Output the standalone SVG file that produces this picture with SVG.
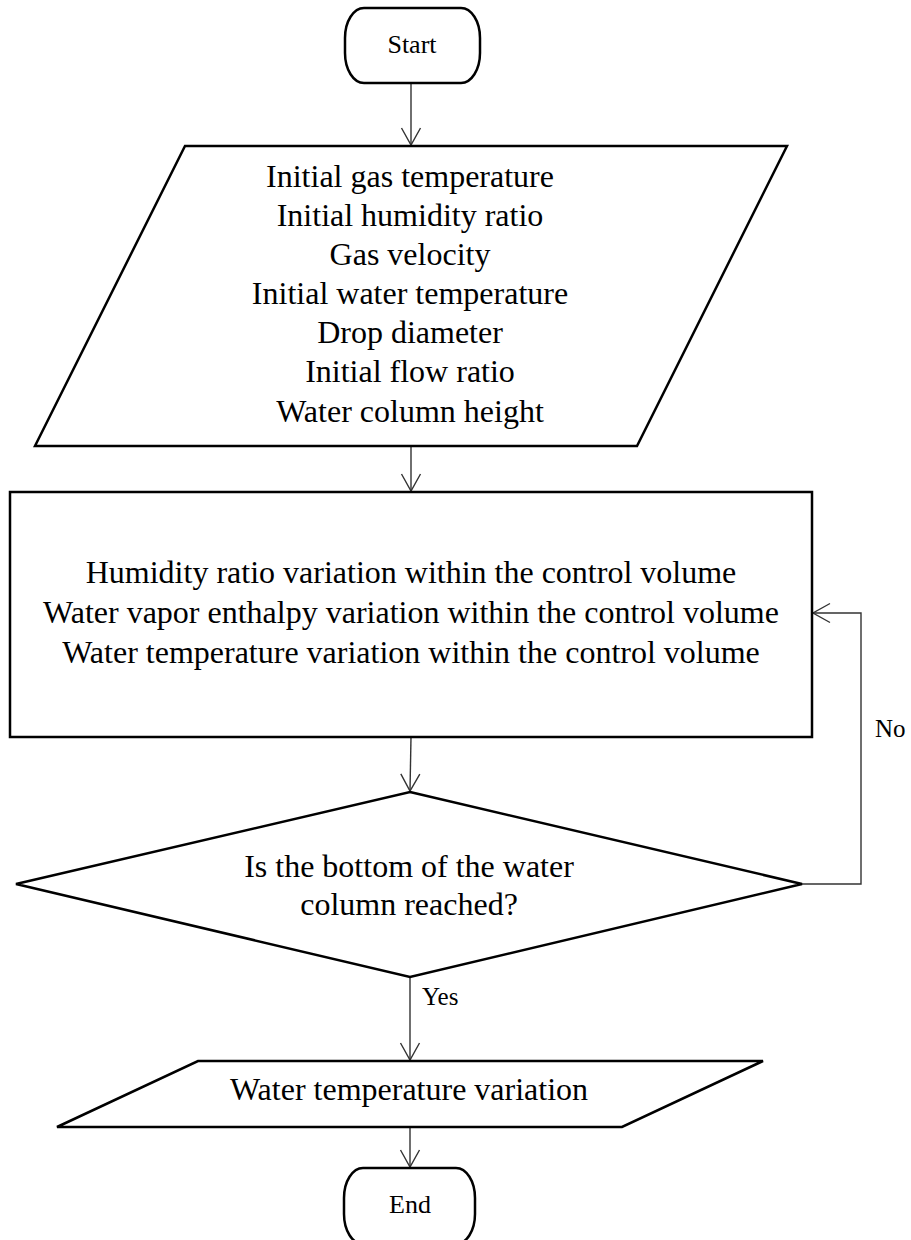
<svg xmlns="http://www.w3.org/2000/svg" width="911" height="1240" viewBox="0 0 911 1240">
<style>
.node{fill:#fff;stroke:#000;stroke-width:2.5;stroke-linejoin:miter}
.t{font-family:"Liberation Serif","Times New Roman",serif;font-size:32px;fill:#000;text-anchor:middle}
.s{font-family:"Liberation Serif","Times New Roman",serif;font-size:26px;fill:#000;text-anchor:middle}
.lbl{font-family:"Liberation Serif","Times New Roman",serif;font-size:25px;fill:#000}
.conn{fill:none;stroke:#333;stroke-width:1.4}
</style>
<defs>
<marker id="arr" markerUnits="userSpaceOnUse" viewBox="-19 -11 21 22" refX="0" refY="0" markerWidth="21" markerHeight="22" orient="auto">
<path d="M-17,-9.5 L0,0 L-17,9.5" fill="none" stroke="#333" stroke-width="1.4"/>
</marker>
</defs>
<rect width="911" height="1240" fill="#fff"/>
<g id="connectors">
<line class="conn" x1="411" y1="83" x2="411" y2="145" marker-end="url(#arr)"/>
<line class="conn" x1="411" y1="446" x2="411" y2="491" marker-end="url(#arr)"/>
<line class="conn" x1="411" y1="737" x2="410" y2="791" marker-end="url(#arr)"/>
<line class="conn" x1="410" y1="977" x2="410" y2="1060" marker-end="url(#arr)"/>
<line class="conn" x1="410" y1="1127" x2="410" y2="1167" marker-end="url(#arr)"/>
<polyline class="conn" points="802,884 861,884 861,613 813,613" marker-end="url(#arr)"/>
<text class="lbl" x="422" y="1005">Yes</text>
<text class="lbl" x="875" y="737">No</text>
</g>
<g id="start">
<rect class="node" x="345" y="8" width="135" height="75" rx="19" ry="30"/>
<text class="s" x="412" y="53">Start</text>
</g>
<g id="input">
<polygon class="node" points="185,146 787,146 637,446 35,446"/>
<text class="t" x="410" y="187">Initial gas temperature</text>
<text class="t" x="410" y="226">Initial humidity ratio</text>
<text class="t" x="410" y="265">Gas velocity</text>
<text class="t" x="410" y="304">Initial water temperature</text>
<text class="t" x="410" y="343">Drop diameter</text>
<text class="t" x="410" y="382">Initial flow ratio</text>
<text class="t" x="410" y="422">Water column height</text>
</g>
<g id="process">
<rect class="node" x="10" y="492" width="802" height="245"/>
<text class="t" x="411" y="583">Humidity ratio variation within the control volume</text>
<text class="t" x="411" y="623">Water vapor enthalpy variation within the control volume</text>
<text class="t" x="411" y="663">Water temperature variation within the control volume</text>
</g>
<g id="decision">
<polygon class="node" points="410,792 802,884 410,977 16,884"/>
<text class="t" x="409" y="877">Is the bottom of the water</text>
<text class="t" x="409" y="915">column reached?</text>
</g>
<g id="output">
<polygon class="node" points="198,1061 763,1061 622,1127 57,1127"/>
<text class="t" x="409" y="1100">Water temperature variation</text>
</g>
<g id="end">
<rect class="node" x="344" y="1168" width="131" height="76" rx="19" ry="30"/>
<text class="s" x="410" y="1213">End</text>
</g>
</svg>
